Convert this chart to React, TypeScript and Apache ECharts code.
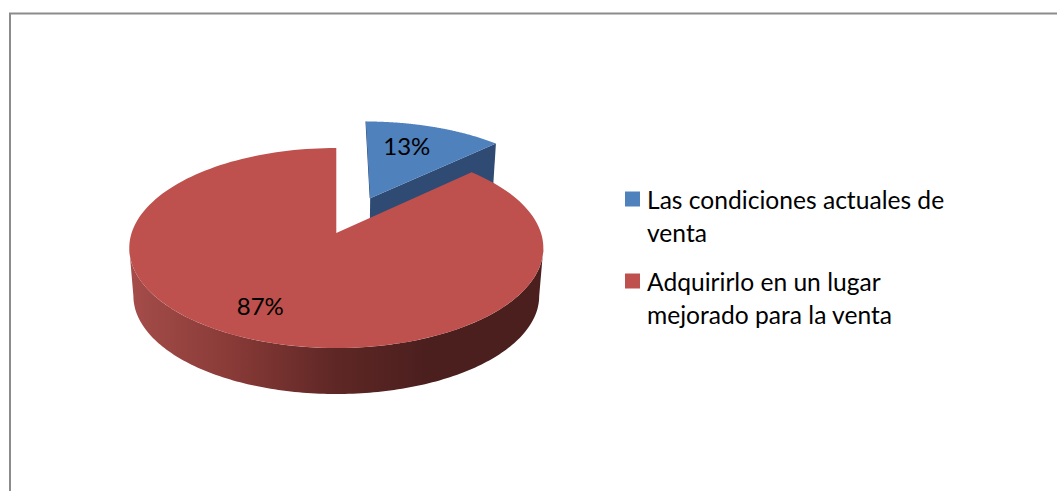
import React, { useEffect, useRef } from "react";
import * as echarts from "echarts";

const seriesNames = ["Las condiciones actuales de venta", "Adquirirlo en un lugar mejorado para la venta"];
const legendLines = [
  ["Las condiciones actuales de", "venta"],
  ["Adquirirlo en un lugar", "mejorado para la venta"],
];
const sliceValues = [13, 87];
const sliceLabels = ["13%", "87%"];
const explodeAmounts = [0.41, 0];
const topColors = ["#4F81BD", "#BE504D"];

const FONT = "Lato";
const CX = 336.3;
const K = 0.15;
const LAYERS = [
  { cy: 233, a: 204.7, b: 97.75 },
  { cy: 281.3, a: 200.6, b: 95.8 },
];
const LABEL_R = [0.62, 0.76];
const LABEL_SHIFT = [[-5, -7], [-7, -4]];
const BLUE_NUDGE_X = 0.012;

const total = sliceValues.reduce((s, v) => s + v, 0);
const sliceAngles = sliceValues.map((_, i) => {
  const before = sliceValues.slice(0, i).reduce((s, v) => s + v, 0);
  return [(before / total) * 2 * Math.PI, ((before + sliceValues[i]) / total) * 2 * Math.PI];
});

function project(u: number, v: number, layer: number) {
  const L = LAYERS[layer];
  const s = 1 / (1 - K * v);
  return [CX + L.a * u * s, L.cy + L.b * v * s];
}

function offsetOf(i: number) {
  const [a0, a1] = sliceAngles[i];
  const mid = (a0 + a1) / 2;
  const nudge = explodeAmounts[i] > 0 ? BLUE_NUDGE_X : 0;
  return [Math.sin(mid) * explodeAmounts[i] + nudge, -Math.cos(mid) * explodeAmounts[i]];
}

function rim(i: number, t: number, layer: number, r = 1) {
  const [ox, oy] = offsetOf(i);
  return project(r * Math.sin(t) + ox, -r * Math.cos(t) + oy, layer);
}

function arc(i: number, from: number, to: number, layer: number) {
  const n = 160;
  const pts: number[][] = [];
  for (let j = 0; j <= n; j++) pts.push(rim(i, from + ((to - from) * j) / n, layer));
  return pts;
}

const wallGradient = () =>
  new echarts.graphic.LinearGradient(0, 0, 1, 0, [
    { offset: 0, color: "#A54D4A" },
    { offset: 0.25, color: "#883A37" },
    { offset: 0.5, color: "#5E2725" },
    { offset: 0.72, color: "#4B1F1E" },
    { offset: 1, color: "#4B1F1E" },
  ]);

function renderSlice(i: number) {
  const [a0, a1] = sliceAngles[i];
  const apexTop = rim(i, 0, 0, 0);
  const apexBottom = rim(i, 0, 1, 0);
  const children: any[] = [];
  if (i === 0) {
    children.push({
      type: "polygon",
      shape: { points: [apexTop, rim(i, a1, 0), rim(i, a1, 1), apexBottom] },
      style: { fill: "#2F4B73" },
    });
    children.push({
      type: "polyline",
      shape: { points: [rim(i, a0, 0), apexTop] },
      style: { stroke: "#2F4B73", lineWidth: 1, fill: "none" },
    });
  } else {
    const silhouette = Math.acos(-K);
    const from = silhouette;
    const to = 2 * Math.PI - silhouette;
    const points = arc(i, from, to, 0).concat(arc(i, from, to, 1).reverse());
    children.push({ type: "polygon", shape: { points }, style: { fill: wallGradient() } });
  }
  children.push({
    type: "polygon",
    shape: { points: [apexTop, ...arc(i, a0, a1, 0)] },
    style: { fill: topColors[i] },
  });
  const mid = (a0 + a1) / 2;
  const p = rim(i, mid, 0, LABEL_R[i]);
  children.push({
    type: "text",
    x: p[0] + LABEL_SHIFT[i][0],
    y: p[1] + LABEL_SHIFT[i][1],
    style: {
      text: sliceLabels[i],
      fontFamily: FONT,
      fontSize: 24,
      fill: "#000000",
      align: "center",
      verticalAlign: "middle",
    },
  });
  return { type: "group", children };
}

export default function App() {
  const ref = useRef<HTMLDivElement>(null);
  useEffect(() => {
    document.body.style.margin = "0";
    const chart = echarts.init(ref.current!, undefined, { renderer: "svg" });
    chart.setOption({
      animation: false,
      backgroundColor: "#FFFFFF",
      legend: {
        orient: "vertical",
        left: 620,
        top: 144.5,
        icon: "rect",
        itemWidth: 15,
        itemHeight: 15,
        itemGap: -17,
        selectedMode: false,
        data: seriesNames,
        formatter: (name: string) => "\n" + legendLines[seriesNames.indexOf(name)].join("\n"),
        textStyle: { fontFamily: FONT, fontSize: 24.6, lineHeight: 33, color: "#000000", padding: [0, 0, 0, 2] },
      },
      graphic: [
        {
          type: "rect",
          shape: { x: 10, y: 13.5, width: 1060, height: 500 },
          style: { fill: "none", stroke: "#8C8C8C", lineWidth: 2 },
          silent: true,
        },
      ],
      series: seriesNames.map((name, i) => ({
        type: "custom",
        name,
        coordinateSystem: "none",
        data: [sliceValues[i]],
        itemStyle: { color: topColors[i] },
        renderItem: () => renderSlice(i),
      })),
    });
    return () => chart.dispose();
  }, []);
  return <div ref={ref} style={{ width: 1057, height: 491 }} />;
}
